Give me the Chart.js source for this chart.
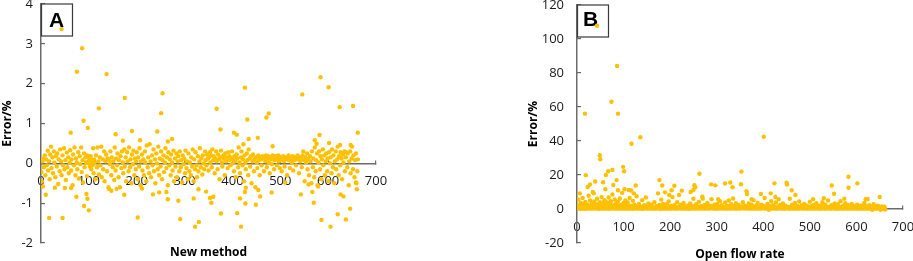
<!DOCTYPE html>
<html><head><meta charset="utf-8">
<script src="https://cdn.jsdelivr.net/npm/chart.js@4/dist/chart.umd.min.js"></script>
<style>
html,body{margin:0;padding:0;background:#fff;}
#wrap{position:relative;width:913px;height:261px;overflow:hidden;}
canvas{position:absolute;top:0;}
</style></head><body>
<div id="wrap"><canvas id="cA" width="400" height="261" style="left:0"></canvas><canvas id="cB" width="413" height="261" style="left:500px"></canvas></div>
<script>
// ---------- Panel A: New method (x = sample no., y = Error/%) ----------
const aHigh = [[43,3.37],[86,2.89],[75,2.30],[137,2.24],[584,2.16],[426,1.90],[601,1.91],[254,1.76],[546,1.73],[175,1.64],[652,1.44],[624,1.41],[121,1.38],[367,1.37],[251,1.26],[476,1.25],[471,1.15],[431,1.10],[89,1.07],[98,0.89],[375,0.85],[243,0.80],[190,0.81],[662,0.77],[62,0.77],[403,0.77],[409,0.72],[156,0.73],[582,0.71],[453,0.64],[274,0.61],[434,0.61],[207,0.58],[171,0.57],[572,0.58],[265,0.55],[576,0.49],[602,0.51],[423,0.48],[484,0.43],[625,0.46],[647,0.46]];
const aLow = [[17,-1.37],[45,-1.37],[202,-1.36],[100,-1.18],[90,-1.07],[97,-0.89],[95,-0.77],[10,-0.79],[74,-0.84],[29,-0.61],[50,-0.62],[63,-0.62],[142,-0.64],[147,-0.69],[158,-0.64],[174,-0.79],[211,-0.63],[234,-0.78],[247,-0.73],[262,-0.72],[265,-0.9],[287,-0.94],[291,-1.40],[319,-0.88],[322,-1.59],[330,-1.47],[329,-0.65],[345,-0.71],[353,-0.87],[360,-0.84],[356,-0.99],[376,-1.26],[410,-1.25],[418,-1.59],[416,-0.88],[426,-0.72],[428,-0.61],[427,-1.01],[449,-1.04],[454,-0.67],[458,-0.83],[482,-0.73],[510,-0.48],[543,-0.78],[559,-0.53],[567,-0.72],[570,-0.99],[579,-0.58],[586,-1.42],[605,-1.59],[620,-1.28],[626,-0.78],[632,-0.83],[637,-1.41],[646,-1.14],[660,-0.65],[658,-0.48]];
const aBand = [[1,-0.22],[2,-0.45],[3,0.05],[4,-0.58],[5,0.12],[6,-0.1],[8,0.2],[9,-0.3],[11,0.1],[12,-0.05],[14,0.32],[15,-0.18],[17,0.05],[18,-0.4],[19,0.22],[21,0.42],[22,-0.12],[24,0.15],[25,-0.25],[27,0.3],[28,0.02],[30,-0.35],[31,0.18],[33,-0.08],[34,0.25],[36,-0.52],[37,0.1],[39,-0.2],[40,0.35],[42,0.05],[43,-0.3],[45,0.2],[46,-0.05],[48,0.38],[49,-0.15],
[51,0.08],[52,-0.42],[54,0.27],[55,-0.1],[57,0.15],[58,-0.25],[60,0.02],[61,0.33],[63,-0.18],[64,0.1],[66,-0.55],[67,0.22],[69,-0.05],[70,0.4],[72,-0.3],[73,0.12],[75,0.02],[76,-0.15],[78,0.28],[79,-0.38],[81,0.18],[82,-0.02],[84,0.4],[85,-0.22],[87,0.08],[88,-0.48],[90,0.25],[91,-0.1],[93,0.15],[94,0.02],[96,-0.32],[97,0.2],[99,0.05],
[100,0.0],[101,0.12],[102,-0.08],[103,0.05],[104,0.18],[105,-0.15],[106,0.02],[107,0.08],[108,-0.05],[109,0.38],[110,-0.25],[111,0.1],[112,0.02],[114,-0.4],[115,0.2],[117,-0.1],[118,0.4],[120,0.05],[121,-0.28],[123,0.15],[124,-0.05],[126,0.42],[127,-0.35],[129,0.1],[130,-0.15],[132,0.3],[133,-0.45],[135,0.05],[136,0.22],[138,-0.2],[139,0.12],[141,-0.6],[142,0.08],[144,-0.02],[145,0.3],[147,-0.3],[148,0.15],
[150,-0.1],[151,0.05],[153,-0.42],[154,0.4],[156,-0.18],[157,0.12],[159,-0.05],[160,0.25],[162,-0.35],[163,0.08],[165,-0.6],[166,0.18],[168,-0.12],[169,0.3],[171,0.02],[172,-0.25],[174,0.35],[175,-0.08],[177,0.15],[178,-0.45],[180,0.28],[181,0.05],[183,-0.2],[184,0.4],[186,-0.1],[187,0.1],[189,-0.5],[190,0.22],[192,-0.02],[193,0.32],[195,-0.3],[196,0.12],[198,-0.15],[199,0.05],
[200,0.28],[202,-0.4],[203,0.15],[205,-0.08],[206,0.38],[208,-0.55],[209,0.05],[211,0.22],[212,-0.18],[214,0.1],[215,-0.3],[217,0.3],[218,0.02],[220,-0.45],[221,0.45],[223,-0.1],[224,0.15],[226,-0.25],[227,0.48],[229,0.05],[230,-0.35],[232,0.2],[233,-0.05],[235,0.35],[236,-0.2],[238,0.1],[239,-0.5],[241,0.25],[242,0.0],[244,-0.15],[245,0.42],[247,-0.3],[248,0.12],[250,-0.08],
[251,0.3],[253,-0.4],[254,0.08],[256,0.2],[257,-0.22],[259,0.02],[260,0.38],[262,-0.12],[263,0.15],[265,-0.55],[266,0.28],[268,-0.05],[269,0.1],[271,-0.3],[272,0.22],[274,0.02],[275,-0.18],[277,0.32],[278,-0.45],[280,0.12],[281,-0.08],[283,0.25],[284,-0.35],[286,0.05],[287,0.18],[289,-0.2],[290,0.3],[292,-0.1],[293,0.08],[295,-0.48],[296,0.2],[298,-0.02],[299,0.12],
[301,-0.25],[302,0.32],[304,-0.12],[305,0.05],[307,-0.4],[308,0.25],[310,-0.2],[311,0.02],[313,-0.3],[314,0.15],[316,-0.08],[317,0.35],[319,-0.45],[320,0.1],[322,-0.15],[323,0.28],[325,-0.05],[326,-0.35],[328,0.18],[329,-0.2],[331,0.05],[332,0.38],[334,-0.1],[335,0.12],[337,-0.28],[338,0.2],[340,0.0],[341,-0.15],[343,0.3],[344,0.08],[346,-0.05],[347,0.22],[349,0.12],
[350,-0.18],[351,0.15],[353,0.28],[354,0.02],[356,0.2],[357,-0.1],[358,0.35],[360,0.08],[361,0.18],[363,-0.25],[364,0.12],[366,0.3],[367,0.05],[369,-0.15],[370,0.22],[372,0.1],[373,-0.4],[375,0.15],[376,0.32],[378,0.02],[379,-0.08],[381,0.2],[382,0.12],[384,-0.3],[385,0.25],[387,0.05],[388,0.15],[390,-0.12],[391,0.28],[393,0.08],[394,0.18],[396,-0.05],[397,0.12],[399,0.3],
[400,0.0],[401,0.1],[403,-0.2],[404,0.18],[406,0.05],[407,-0.35],[409,0.22],[410,0.12],[412,-0.1],[413,0.4],[415,0.02],[416,-0.25],[418,0.15],[419,0.3],[421,-0.05],[422,0.1],[424,-0.45],[425,0.2],[427,0.02],[428,-0.15],[430,0.25],[431,0.08],[433,-0.3],[434,0.35],[436,0.12],[437,-0.08],[439,0.18],[440,-0.5],[442,0.05],[443,0.22],[445,-0.2],[446,0.1],[448,-0.6],[449,0.15],
[451,0.02],[452,-0.12],[454,0.2],[455,0.08],[457,-0.3],[458,0.15],[460,0.1],[461,-0.05],[463,0.18],[464,0.12],[466,-0.2],[467,0.15],[469,0.05],[470,0.2],[472,-0.1],[473,0.12],[475,0.18],[476,0.02],[478,-0.25],[479,0.15],[481,0.1],[482,-0.02],[484,0.2],[485,0.12],[487,-0.15],[488,0.08],[490,0.18],[491,0.15],[493,-0.05],[494,0.1],[496,0.2],[497,0.05],[499,-0.12],
[500,0.15],[502,0.1],[503,-0.2],[505,0.12],[506,0.18],[508,0.05],[509,-0.08],[511,0.15],[512,0.1],[514,-0.3],[515,0.12],[517,0.2],[518,0.08],[520,-0.12],[521,0.15],[523,0.1],[524,0.02],[526,0.18],[527,-0.18],[529,0.12],[530,0.08],[532,0.15],[533,-0.05],[535,0.12],[536,0.2],[538,0.1],[539,-0.25],[541,0.15],[542,0.05],[544,0.12],[545,-0.1],[547,0.2],[548,0.3],[550,0.08],[551,-0.45],[553,0.15],[554,0.02],[556,0.25],[557,-0.15],[559,0.1],
[560,-0.3],[562,0.18],[563,0.05],[565,-0.5],[566,0.3],[568,-0.1],[569,0.12],[571,-0.35],[572,0.4],[574,-0.2],[575,0.08],[577,0.25],[578,-0.55],[580,0.02],[581,0.3],[583,-0.15],[584,0.18],[586,-0.4],[587,0.1],[589,0.35],[590,-0.05],[592,0.2],[593,-0.3],[595,0.05],[596,0.25],[598,-0.2],[599,0.12],[601,-0.45],[602,0.28],[604,0.0],[605,0.15],[607,-0.25],[608,0.35],[610,-0.1],[611,0.2],[613,-0.5],[614,0.05],[616,0.3],[617,-0.15],[619,0.1],[620,0.42],[622,-0.3],[623,0.18],[625,-0.05],[626,0.28],[628,0.12],[629,-0.4],[631,0.22],[632,0.02],[634,0.3],[635,-0.2],[637,0.15],[638,0.28],[640,-0.1],[641,0.25],[643,-0.55],[644,0.05],[646,0.3],[647,-0.25],[649,0.12],[650,0.42],[652,-0.15],[653,0.2],[655,-0.35],[656,0.08],[658,0.25],[659,-0.5],[661,-0.2],[662,0.1]];

// ---------- Panel B: Open flow rate ----------
const bHigh = [[43,107.8],[86,84.1],[74,63.1],[17,56.1],[88,56.1],[136,42.2],[401,42.5],[117,38.4],[49,31.6],[50,29.3],[99,24.8],[76,23.0],[67,22.2],[101,22.2],[353,22.0],[263,20.7],[19,19.9],[62,20.0],[583,19.0],[85,17.0],[177,17.0],[39,16.2],[56,15.7],[450,15.5],[451,14.4],[602,15.1],[424,15.1],[329,15.6],[318,15.0],[288,14.5],[352,14.6],[126,13.8],[183,13.8],[297,13.9],[209,13.7],[547,13.8],[252,14.0],[254,12.8],[28,14.4],[23,12.9],[583,12.5],[334,12.8],[61,11.6],[88,11.0],[102,11.6],[111,11.2],[116,10.9],[461,11.0],[225,10.8],[250,11.2],[203,11.0],[78,14.1],[552,9.0],[36,9.2],[122,9.2],[174,9.2],[198,8.2],[365,8.8],[395,8.8],[416,9.2],[6,9.2],[244,10.0]];
const bBand = [[1,1.5],[2,0.3],[3,5.5],[4,0.8],[5,2.2],[6,0.1],[7,1.0],[8,3.5],[9,0.4],[10,1.8],[11,0.2],[12,6.5],[13,0.9],[14,2.8],[15,0.5],[16,1.2],[17,0.1],[18,4.2],[19,0.7],[20,1.6],[21,0.2],[22,2.5],[24,0.9],[25,7.8],[26,0.3],[27,1.4],[28,5.0],[29,0.6],[30,2.0],[31,0.2],[32,3.2],[33,0.8],[34,10.0],[35,1.1],[36,0.3],[37,4.5],[38,0.9],[40,2.6],[41,0.4],[42,1.5],[43,6.0],[44,0.2],[45,3.0],[46,0.8],[47,1.9],[48,0.1],[49,4.0],[50,1.2],[51,0.5],[52,2.4],[53,7.0],[54,0.3],[55,1.7],[56,3.5],[57,0.6],[58,1.0],[59,5.2],[60,0.2],[61,2.1],[62,0.9],[63,1.4],[64,0.3],[65,3.8],[66,1.0],[67,0.4],[68,6.8],[69,1.8],[70,0.2],[71,2.7],[72,0.7],[73,4.6],[74,1.2],[75,0.3],[76,8.5],[77,1.5],[78,0.5],[79,2.3],[80,0.8],[81,5.6],[82,0.2],[83,1.9],[84,3.2],[85,0.6],[86,1.1],[87,0.2],[88,4.4],[89,0.9],[90,2.0],[91,0.3],[92,6.2],[93,1.3],[94,0.5],[95,2.6],[96,0.2],[97,9.5],[98,1.0],[99,0.4],
[100,3.5],[101,0.8],[102,1.6],[103,0.2],[104,5.0],[105,0.6],[106,2.2],[107,0.3],[108,1.2],[109,3.8],[110,0.5],[111,1.0],[112,0.2],[113,6.5],[114,0.9],[115,2.0],[116,0.4],[118,1.5],[119,0.1],[120,4.8],[121,0.7],[123,2.5],[124,0.3],[125,1.2],[126,0.6],[128,7.5],[129,0.2],[130,1.8],[131,0.5],[133,3.0],[134,0.9],[135,0.2],[137,1.4],[138,0.4],[140,5.2],[141,0.8],[142,0.1],[144,2.2],[145,0.5],[147,1.0],[148,6.8],[149,0.3],[151,1.6],[152,0.6],[153,3.2],[155,0.2],[156,1.1],[158,0.4],[159,2.5],[160,0.7],[162,0.2],[163,1.5],[165,0.3],[166,4.0],[168,0.8],[169,0.2],[171,1.8],[172,0.5],[173,0.9],[176,0.3],[177,2.4],[178,0.6],[180,0.1],[181,5.5],[182,1.2],[184,0.4],[185,3.0],[187,0.8],[188,0.2],[189,9.8],[190,1.5],[192,0.5],[193,2.8],[194,0.2],[196,1.0],[197,4.5],[199,0.6],
[200,0.2],[202,1.9],[203,0.4],[205,7.0],[206,0.9],[207,0.3],[209,2.2],[210,0.5],[212,1.2],[213,0.2],[215,4.0],[216,0.8],[218,0.3],[219,8.2],[220,1.5],[222,0.5],[223,2.6],[225,0.2],[226,1.0],[228,0.6],[229,3.6],[231,0.3],[232,1.4],[234,0.7],[235,0.2],[237,2.0],[238,0.5],[240,1.2],[241,0.1],[243,3.2],[245,0.8],[246,0.3],[248,1.6],[249,0.5],[250,6.0],[252,0.2],[254,1.0],[255,0.6],[256,2.8],[258,0.3],[259,1.5],[261,0.5],[262,4.2],[264,0.9],[265,0.2],[267,1.8],[268,0.4],[269,7.2],[271,1.0],[272,0.3],[274,2.4],[275,0.6],[277,0.2],[278,1.3],[280,3.5],[281,0.5],[283,0.9],[284,0.2],[286,2.0],[288,0.6],[289,5.8],[290,1.2],[292,0.3],[293,0.8],[295,2.6],[296,0.2],[298,1.0],[299,0.5],
[301,3.0],[302,0.2],[304,1.5],[305,0.6],[307,4.6],[308,0.3],[310,1.0],[311,2.2],[313,0.4],[314,0.9],[316,0.2],[318,3.8],[319,1.2],[320,0.5],[322,2.0],[323,0.2],[325,1.4],[326,5.0],[328,0.6],[329,0.2],[331,2.8],[332,1.0],[334,0.4],[335,6.2],[337,1.6],[338,0.3],[340,0.8],[341,3.4],[343,0.2],[344,1.2],[346,0.5],[347,2.4],[349,0.9],[350,0.2],[353,1.5],[355,0.5],[356,4.0],[358,0.8],[359,0.3],[360,2.0],[362,1.1],[363,0.4],[364,10.5],[366,1.6],[367,0.3],[369,3.2],[370,0.6],[372,1.2],[373,0.2],[375,2.5],[376,0.7],[378,0.3],[379,5.2],[381,1.4],[382,0.5],[384,0.2],[385,2.0],[387,0.8],[388,3.6],[390,0.3],[391,1.1],[393,0.5],[394,0.2],[396,2.6],[397,1.0],[399,0.4],
[400,1.8],[402,0.6],[403,6.5],[405,0.2],[406,1.3],[408,0.5],[409,3.0],[411,0.9],[412,-0.5],[414,1.6],[415,0.3],[417,4.6],[418,0.8],[420,0.2],[421,2.2],[423,0.6],[424,1.2],[426,0.3],[427,3.8],[429,0.9],[430,0.2],[432,1.5],[433,5.8],[435,0.5],[436,2.4],[438,0.2],[439,1.0],[441,0.6],[442,3.2],[444,0.3],[445,1.4],[447,0.2],[448,2.0],[450,0.8],[453,0.4],[454,1.2],[456,0.2],[457,6.0],[459,1.0],[460,0.3],[462,2.6],[463,0.6],[465,1.5],[466,0.2],[468,3.6],[470,0.9],[471,0.3],[473,1.8],[474,0.5],[476,0.2],[477,4.4],[479,1.1],[480,0.4],[482,2.2],[483,0.7],[485,0.2],[486,1.4],[488,3.0],[489,0.5],[491,1.0],[492,0.3],[494,2.0],[495,0.6],[497,0.2],[498,1.2],
[500,4.2],[501,0.5],[503,1.6],[504,0.2],[506,0.8],[508,2.4],[509,0.3],[511,1.0],[512,0.5],[514,3.4],[515,0.2],[517,1.2],[518,0.6],[520,2.0],[521,0.3],[523,0.9],[524,0.2],[526,1.6],[527,4.0],[529,0.5],[530,1.0],[532,0.2],[533,2.6],[535,0.7],[536,0.3],[538,1.4],[539,5.0],[541,0.4],[542,1.0],[544,0.2],[546,2.2],[547,0.6],[549,1.2],[550,0.3],[553,3.2],[554,0.8],[556,0.2],[557,1.5],[558,0.5],[560,2.8],[561,0.2],[563,1.0],[564,0.6],[566,4.6],[567,0.3],[569,1.3],[570,0.5],[572,2.0],[573,0.2],[575,0.9],[576,3.4],[578,0.4],[579,1.6],[581,0.2],[582,2.4],[584,0.7],[585,0.3],[587,1.2],[588,0.5],[590,3.0],[591,0.2],[593,1.0],[594,0.6],[596,1.8],[597,0.3],[599,0.9],
[601,0.2],[602,2.6],[604,0.5],[605,1.2],[607,0.3],[608,0.8],[610,2.0],[611,0.2],[613,1.4],[614,0.6],[616,0.3],[617,3.6],[619,0.9],[621,0.2],[622,1.6],[623,0.5],[625,1.0],[626,0.3],[628,2.2],[629,0.6],[631,0.2],[632,1.2],[634,-0.4],[635,0.5],[637,2.8],[638,0.9],[640,0.3],[641,1.4],[643,0.2],[644,0.7],[646,2.0],[647,0.4],[649,1.0],[651,0.2],[652,-0.5],[654,1.5],[655,0.4],[657,0.9],[658,0.2],[660,1.3],[661,0.5],[662,-0.3],[620,5.7],[624,5.9],[650,7.1],[574,6.1],[530,6.3],[270,6.1],[303,5.7],[375,5.7],[507,5.7],[426,7.1],[469,8.2]];

const xTicksMax = 700;
const aYRange = [-2, 4];
const bYRange = [-20, 120];

const GOLD = '#FFC000';
const AXIS = '#6b6b6b';
const FONT = "'Open Sans', 'Liberation Sans', sans-serif";

const panelLabel = {
  id: 'panelLabel',
  beforeDatasetsDraw(chart, args, o) {
    const {ctx, chartArea} = chart;
    const x = chartArea.left + 0.5, y = chartArea.top + o.dy;
    ctx.save();
    ctx.fillStyle = '#fff';
    ctx.fillRect(x, y, o.w, o.h);
    ctx.strokeStyle = '#3a3a3a';
    ctx.lineWidth = 1.2;
    ctx.strokeRect(x, y, o.w, o.h);
    ctx.fillStyle = '#000';
    ctx.font = "bold 21px 'Liberation Sans', Arial, sans-serif";
    ctx.textAlign = 'center';
    ctx.textBaseline = 'alphabetic';
    ctx.fillText(o.text, x + o.tx, y + o.ty);
    ctx.restore();
  }
};

function toXY(arrs) {
  const out = [];
  arrs.forEach(a => a.forEach(p => out.push({x: p[0], y: p[1]})));
  return out;
}

function makeChart(id, pts, yr, step, cfg) {
  return new Chart(document.getElementById(id), {
    type: 'scatter',
    data: {datasets: [{data: pts, backgroundColor: GOLD, borderWidth: 0, pointRadius: 2.2, pointHoverRadius: 2.2}]},
    options: {
      responsive: false, animation: false, devicePixelRatio: 1,
      layout: {padding: {top: cfg.top, left: 0, right: cfg.right, bottom: 0}},
      plugins: {
        legend: {display: false}, tooltip: {enabled: false},
        title: {display: true, position: 'bottom', fullSize: false, text: cfg.xTitle, color: '#000',
          font: {family: FONT, size: 12, weight: 'bold', lineHeight: 1}, padding: {top: cfg.tPadTop, bottom: cfg.tPadBottom}},
        panelLabel: cfg.label
      },
      scales: {
        x: {type: 'linear', min: 0, max: xTicksMax, position: {y: 0},
          afterFit: s => { s.height = 0; s.paddingLeft = 0; s.paddingRight = 0; },
          ticks: {stepSize: 100, color: '#1a1a1a', font: {family: FONT, size: 13}, padding: 14, maxRotation: 0, autoSkip: false},
          grid: {drawOnChartArea: false, color: AXIS, tickLength: -4, lineWidth: 1.2},
          border: {color: AXIS, width: 1.5}},
        y: {type: 'linear', min: yr[0], max: yr[1],
          afterFit: s => { s.width = cfg.yWidth; s.paddingTop = 0; s.paddingBottom = 0; },
          ticks: {stepSize: step, color: '#1a1a1a', font: {family: FONT, size: 13}, padding: cfg.yPad, autoSkip: false},
          grid: {drawOnChartArea: false, color: AXIS, tickLength: -4, lineWidth: 1.2},
          border: {color: AXIS, width: 1.5},
          title: {display: true, text: 'Error/%', color: '#000', font: {family: FONT, size: 12, weight: 'bold', lineHeight: 1.2}, padding: {top: cfg.yTitlePad, bottom: 0}}}
      }
    },
    plugins: [panelLabel]
  });
}

makeChart('cA', toXY([aBand, aLow, aHigh]), aYRange, 1, {
  top: 4, right: 24, yWidth: 41, yPad: 12, yTitlePad: 0, xTitle: 'New method', tPadTop: 4, tPadBottom: 2,
  label: {text: 'A', dy: 0, w: 31, h: 32, tx: 15, ty: 23}
});
makeChart('cB', toXY([bBand, bHigh]), bYRange, 20, {
  top: 5, right: 10, yWidth: 77, yPad: 17, yTitlePad: 26, xTitle: 'Open flow rate', tPadTop: 6, tPadBottom: 0,
  label: {text: 'B', dy: 0, w: 31, h: 32, tx: 13, ty: 21}
});
</script>
</body></html>
